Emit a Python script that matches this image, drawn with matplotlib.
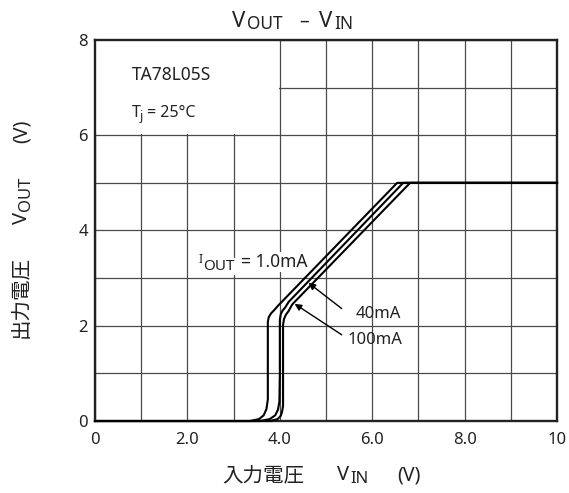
import matplotlib.pyplot as plt
from matplotlib.patches import Rectangle

plt.rcParams['font.family'] = ['Noto Sans', 'Noto Sans CJK JP']

W, H = 569, 493

# Output voltage vs input voltage for three load currents
vin_1ma = [0, 3.35, 3.55, 3.65, 3.71, 3.74, 3.74, 3.74, 3.76, 3.81, 3.88, 3.96, 6.54, 10]
vout_1ma = [0, 0, 0.04, 0.12, 0.25, 0.45, 1.0, 2.08, 2.18, 2.26, 2.33, 2.42, 5.0, 5.0]

vin_40ma = [0, 3.57, 3.78, 3.90, 3.96, 3.99, 4.00, 4.00, 4.02, 4.06, 4.12, 4.19, 6.67, 10]
vout_40ma = [0, 0, 0.04, 0.12, 0.24, 0.40, 1.0, 2.12, 2.24, 2.32, 2.39, 2.50, 5.0, 5.0]

vin_100ma = [0, 3.79, 3.95, 4.02, 4.05, 4.07, 4.07, 4.07, 4.09, 4.13, 4.19, 4.27, 6.82, 10]
vout_100ma = [0, 0, 0.04, 0.11, 0.20, 0.32, 1.0, 2.02, 2.14, 2.23, 2.31, 2.45, 5.0, 5.0]

x_ticks = list(range(11))
x_labels = ['0', '', '2.0', '', '4.0', '', '6.0', '', '8.0', '', '10']
y_ticks = list(range(9))
y_labels = ['0', '', '2', '', '4', '', '6', '', '8']

INK = '#222222'


def px(x, y):
    # pixel position (from top-left) -> figure fraction
    return x / W, 1 - y / H


fig = plt.figure(figsize=(W / 100, H / 100), dpi=100)
ax = fig.add_axes([0.167, 0.146, 0.812, 0.773])

ax.set_xlim(0, 10)
ax.set_ylim(0, 8)
ax.set_xticks(x_ticks)
ax.set_xticklabels(x_labels)
ax.set_yticks(y_ticks)
ax.set_yticklabels(y_labels)
ax.tick_params(length=0, labelsize=12, colors=INK)
ax.tick_params(axis='x', pad=8)
ax.tick_params(axis='y', pad=5)
ax.grid(color='#4a4a4a', linewidth=0.9)
ax.set_axisbelow(True)
for s in ax.spines.values():
    s.set_linewidth(1.7)
    s.set_color(INK)

# blank area holding the device name
ax.add_patch(Rectangle((0.02, 6.02), 3.96, 1.96, facecolor='white',
                       edgecolor='none', zorder=1))

for vx, vy in [(vin_1ma, vout_1ma), (vin_40ma, vout_40ma), (vin_100ma, vout_100ma)]:
    ax.plot(vx, vy, color='black', linewidth=1.5, zorder=3,
            solid_joinstyle='round', clip_on=False)

# annotations inside the plot
txt = dict(color=INK, zorder=4, ha='left', va='baseline', transform=fig.transFigure)
ax.text(*px(132, 80), 'TA78L05S', fontsize=12.5, **txt)
ax.text(*px(132, 117), 'T', fontsize=11.5, **txt)
ax.text(*px(140, 120), 'j', fontsize=9, **txt)
ax.text(*px(147, 117), '= 25°C', fontsize=11.5, **txt)

wb = dict(facecolor='white', edgecolor='none', pad=1)
ax.text(*px(199, 263), 'I', fontsize=9, bbox=wb, **txt)
ax.text(*px(203, 270), 'OUT', fontsize=11, bbox=wb, **txt)
ax.text(*px(241, 267), '= 1.0mA', fontsize=12.5, bbox=wb, **txt)
ax.text(*px(356, 318), '40mA', fontsize=12, **txt)
ax.text(*px(348, 344), '100mA', fontsize=12, **txt)

arrow = dict(arrowstyle='-|>', color='black', lw=1.0, mutation_scale=10,
             shrinkA=0, shrinkB=0)
ax.annotate('', xy=(4.62, 2.90), xytext=(5.34, 2.36), arrowprops=arrow, zorder=4)
ax.annotate('', xy=(4.32, 2.46), xytext=(5.34, 1.81), arrowprops=arrow, zorder=4)

# title and axis labels with subscripts
lab = dict(color=INK, ha='left', va='baseline')
fig.text(*px(232, 27), 'V', fontsize=16, **lab)
fig.text(*px(247, 29), 'OUT', fontsize=12.5, **lab)
fig.text(*px(299, 27), '–', fontsize=14, **lab)
fig.text(*px(319, 27), 'V', fontsize=16, **lab)
fig.text(*px(334, 29), 'IN', fontsize=12.5, **lab)

fig.text(*px(222, 481), '入力電圧', fontsize=14.8, **lab)
fig.text(*px(337, 480), 'V', fontsize=14.5, **lab)
fig.text(*px(350, 483), 'IN', fontsize=12, **lab)
fig.text(*px(397, 480), '(V)', fontsize=14, **lab)

rot = dict(color=INK, ha='left', va='baseline', rotation=90, rotation_mode='anchor')
fig.text(*px(27, 338), '出力電圧', fontsize=14.8, **rot)
fig.text(*px(27, 224), 'V', fontsize=14.5, **rot)
fig.text(*px(30, 211), 'OUT', fontsize=12, **rot)
fig.text(*px(27, 143), '(V)', fontsize=14, **rot)

plt.savefig('out.png', dpi=100)
